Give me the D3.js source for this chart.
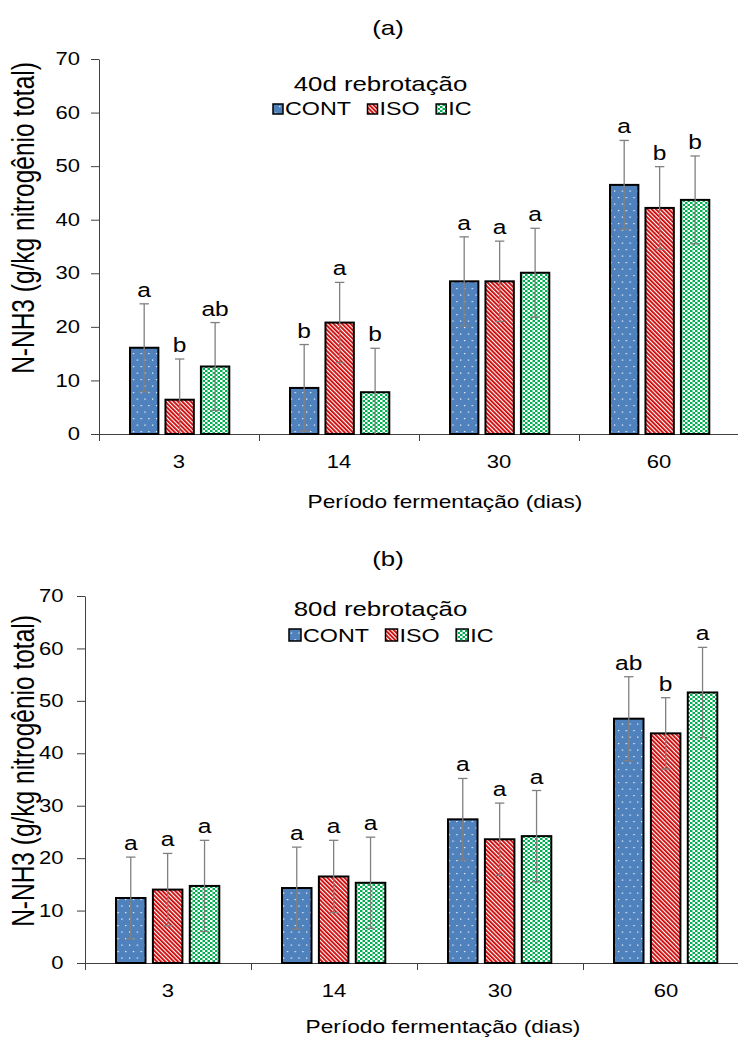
<!DOCTYPE html>
<html>
<head>
<meta charset="utf-8">
<script src="https://cdn.jsdelivr.net/npm/d3@7"></script>
<style>
  body { margin: 0; background: #fff; }
  svg { display: block; }
  text { font-family: Arial, "Liberation Sans", Helvetica, sans-serif; fill: #000; }
</style>
</head>
<body>
<div id="chart"></div>
<script>
// ---- data ----
var categories = ["3", "14", "30", "60"];
var series = ["CONT", "ISO", "IC"];
var yTicks = [0, 10, 20, 30, 40, 50, 60, 70];

// (a) 40d rebrotação
var meanA_CONT = [16.1, 8.6, 28.5, 46.5];
var meanA_ISO  = [6.4, 20.8, 28.5, 42.2];
var meanA_IC   = [12.6, 7.8, 30.1, 43.7];
var errA_CONT  = [8.2, 8.1, 8.3, 8.3];
var errA_ISO   = [7.6, 7.5, 7.5, 7.7];
var errA_IC    = [8.2, 8.2, 8.3, 8.2];
var letA_CONT  = ["a", "b", "a", "a"];
var letA_ISO   = ["b", "a", "a", "b"];
var letA_IC    = ["ab", "b", "a", "b"];

// (b) 80d rebrotação
var meanB_CONT = [12.4, 14.3, 27.4, 46.6];
var meanB_ISO  = [14.0, 16.5, 23.6, 43.8];
var meanB_IC   = [14.7, 15.3, 24.2, 51.6];
var errB_CONT  = [7.8, 7.8, 7.8, 8.0];
var errB_ISO   = [6.9, 6.9, 6.9, 6.8];
var errB_IC    = [8.7, 8.7, 8.7, 8.6];
var letB_CONT  = ["a", "a", "a", "ab"];
var letB_ISO   = ["a", "a", "a", "b"];
var letB_IC    = ["a", "a", "a", "a"];

// the picture is stretched sideways, so text is too
var SX = 1.26;

var svg = d3.select("#chart").append("svg")
    .attr("width", 738)
    .attr("height", 1038);

var defs = svg.append("defs");

// CONT: blue with small white dots
var pDot = defs.append("pattern").attr("id", "pCONT")
    .attr("patternUnits", "userSpaceOnUse").attr("width", 7.7).attr("height", 13);
pDot.append("rect").attr("width", 7.7).attr("height", 13).attr("fill", "#4F81BD");
pDot.append("rect").attr("x", 2).attr("y", 2).attr("width", 1.2).attr("height", 1.2).attr("fill", "#fff");
pDot.append("rect").attr("x", 5.8).attr("y", 8.5).attr("width", 1.2).attr("height", 1.2).attr("fill", "#fff");

// ISO: red / white diagonal stripes
var pStr = defs.append("pattern").attr("id", "pISO")
    .attr("patternUnits", "userSpaceOnUse").attr("width", 3).attr("height", 3)
    .attr("patternTransform", "rotate(-45)");
pStr.append("rect").attr("width", 3).attr("height", 3).attr("fill", "#fff");
pStr.append("rect").attr("width", 1.8).attr("height", 3).attr("fill", "#CC0000");

// IC: green checkerboard
var pChk = defs.append("pattern").attr("id", "pIC")
    .attr("patternUnits", "userSpaceOnUse").attr("width", 5).attr("height", 4);
pChk.append("rect").attr("width", 5).attr("height", 4).attr("fill", "#00B050");
pChk.append("rect").attr("width", 2.5).attr("height", 2).attr("fill", "#fff");
pChk.append("rect").attr("x", 2.5).attr("y", 2).attr("width", 2.5).attr("height", 2).attr("fill", "#fff");

var fills = { CONT: "url(#pCONT)", ISO: "url(#pISO)", IC: "url(#pIC)" };

// stretched text helper
function stext(g, x, y, str, size, anchor) {
    return g.append("text")
        .attr("transform", "translate(" + x + "," + y + ") scale(" + SX + ",1)")
        .attr("text-anchor", anchor || "middle")
        .style("font-size", size + "px")
        .text(str);
}

function drawPanel(p) {
    var g = svg.append("g");

    var x0 = d3.scaleBand().domain(categories).range([p.left, p.right]);
    var x1 = d3.scaleBand().domain(series).range(p.inner).paddingInner(0.2);
    var y = d3.scaleLinear().domain([0, 70]).range([p.bottom, p.top]);

    // rows for every bar
    var rows = [];
    categories.forEach(function(c, i) {
        series.forEach(function(s) {
            rows.push({ cat: c, s: s, v: p.mean[s][i], e: p.err[s][i], l: p.letters[s][i] });
        });
    });

    // y axis
    var yAxis = g.append("g")
        .attr("transform", "translate(" + p.left + ",0)")
        .call(d3.axisLeft(y).tickValues(yTicks).tickSize(8).tickSizeOuter(0).tickPadding(p.tickPad));
    yAxis.selectAll("text")
        .attr("transform", "scale(" + SX + ",1)")
        .style("font-size", "17.5px")
        .style("font-family", "Arial, 'Liberation Sans', sans-serif");

    // x axis: boundary ticks
    var xb = d3.scaleLinear().domain([0, categories.length]).range([p.left, p.right]);
    g.append("g")
        .attr("transform", "translate(0," + p.bottom + ")")
        .call(d3.axisBottom(xb).tickValues(d3.range(categories.length + 1))
            .tickSize(7).tickSizeOuter(0).tickFormat(""));

    // x axis: category labels
    var xl = g.append("g")
        .attr("transform", "translate(0," + p.bottom + ")")
        .call(d3.axisBottom(x0).tickSize(0).tickPadding(0));
    xl.select(".domain").remove();
    xl.selectAll("text")
        .attr("y", 34).attr("dy", 0)
        .attr("transform", "scale(" + SX + ",1)")
        .attr("x", 0)
        .style("font-size", "17.5px")
        .style("font-family", "Arial, 'Liberation Sans', sans-serif");
    g.selectAll(".domain, .tick line").attr("stroke", "#404040");

    // bars
    g.selectAll("rect.bar")
        .data(rows)
        .enter().append("rect")
        .attr("class", "bar")
        .attr("x", function(d) { return x0(d.cat) + x1(d.s); })
        .attr("y", function(d) { return y(d.v); })
        .attr("width", x1.bandwidth())
        .attr("height", function(d) { return y(0) - y(d.v); })
        .attr("fill", function(d) { return fills[d.s]; })
        .attr("stroke", "#000")
        .attr("stroke-width", 2);

    // error bars (clipped at zero like the original)
    var cap = 4.7;
    function cx(d) { return x0(d.cat) + x1(d.s) + x1.bandwidth() / 2; }
    var eb = g.selectAll("g.err")
        .data(rows)
        .enter().append("g")
        .attr("class", "err")
        .attr("stroke", "#808080")
        .attr("stroke-width", 1.3);
    eb.append("line")
        .attr("x1", cx).attr("x2", cx)
        .attr("y1", function(d) { return y(Math.max(0, d.v - d.e)); })
        .attr("y2", function(d) { return y(d.v + d.e); });
    eb.append("line")
        .attr("x1", function(d) { return cx(d) - cap; })
        .attr("x2", function(d) { return cx(d) + cap; })
        .attr("y1", function(d) { return y(d.v + d.e); })
        .attr("y2", function(d) { return y(d.v + d.e); });
    eb.filter(function(d) { return d.v - d.e > 0; }).append("line")
        .attr("x1", function(d) { return cx(d) - cap; })
        .attr("x2", function(d) { return cx(d) + cap; })
        .attr("y1", function(d) { return y(d.v - d.e); })
        .attr("y2", function(d) { return y(d.v - d.e); });

    // significance letters
    rows.forEach(function(d) {
        stext(g, cx(d), y(d.v + d.e) - 7, d.l, 19.5);
    });

    // titles
    stext(g, p.labelX, p.labelY, p.label, 20.5);
    stext(g, p.titleX, p.titleY, p.title, 20.5);
    stext(g, p.xTitleX, p.xTitleY, "Período fermentação (dias)", 18);

    g.append("text")
        .attr("transform", "translate(" + p.yTitleX + "," + p.yTitleY + ") scale(" + SX + ",1) rotate(-90)")
        .attr("text-anchor", "middle")
        .style("font-size", "24.5px")
        .text("N-NH3 (g/kg nitrogênio total)");

    // legend
    var lx = p.legX;
    series.forEach(function(s) {
        g.append("rect")
            .attr("x", lx).attr("y", p.legY - p.sw - 1)
            .attr("width", p.sw).attr("height", p.sw)
            .attr("fill", fills[s]).attr("stroke", "#000").attr("stroke-width", 1.5);
        var t = stext(g, lx + p.sw + 2, p.legY, s, 18.5, "start");
        lx += p.sw + 2 + t.node().getComputedTextLength() * SX + 16.5;
    });
}

drawPanel({
    left: 99, right: 739, top: 59, bottom: 434, inner: [31, 130.3], tickPad: 7,
    mean: { CONT: meanA_CONT, ISO: meanA_ISO, IC: meanA_IC },
    err: { CONT: errA_CONT, ISO: errA_ISO, IC: errA_IC },
    letters: { CONT: letA_CONT, ISO: letA_ISO, IC: letA_IC },
    label: "(a)", labelX: 388, labelY: 35,
    title: "40d rebrotação", titleX: 380.5, titleY: 91,
    xTitleX: 445, xTitleY: 508,
    yTitleX: 34, yTitleY: 218,
    legX: 273, legY: 115, sw: 10
});

drawPanel({
    left: 85, right: 749, top: 596, bottom: 963, inner: [31, 134.3], tickPad: 9,
    mean: { CONT: meanB_CONT, ISO: meanB_ISO, IC: meanB_IC },
    err: { CONT: errB_CONT, ISO: errB_ISO, IC: errB_IC },
    letters: { CONT: letB_CONT, ISO: letB_ISO, IC: letB_IC },
    label: "(b)", labelX: 388, labelY: 566,
    title: "80d rebrotação", titleX: 380.5, titleY: 616,
    xTitleX: 443, xTitleY: 1033,
    yTitleX: 34, yTitleY: 771,
    legX: 289, legY: 642, sw: 12
});
</script>
</body>
</html>
